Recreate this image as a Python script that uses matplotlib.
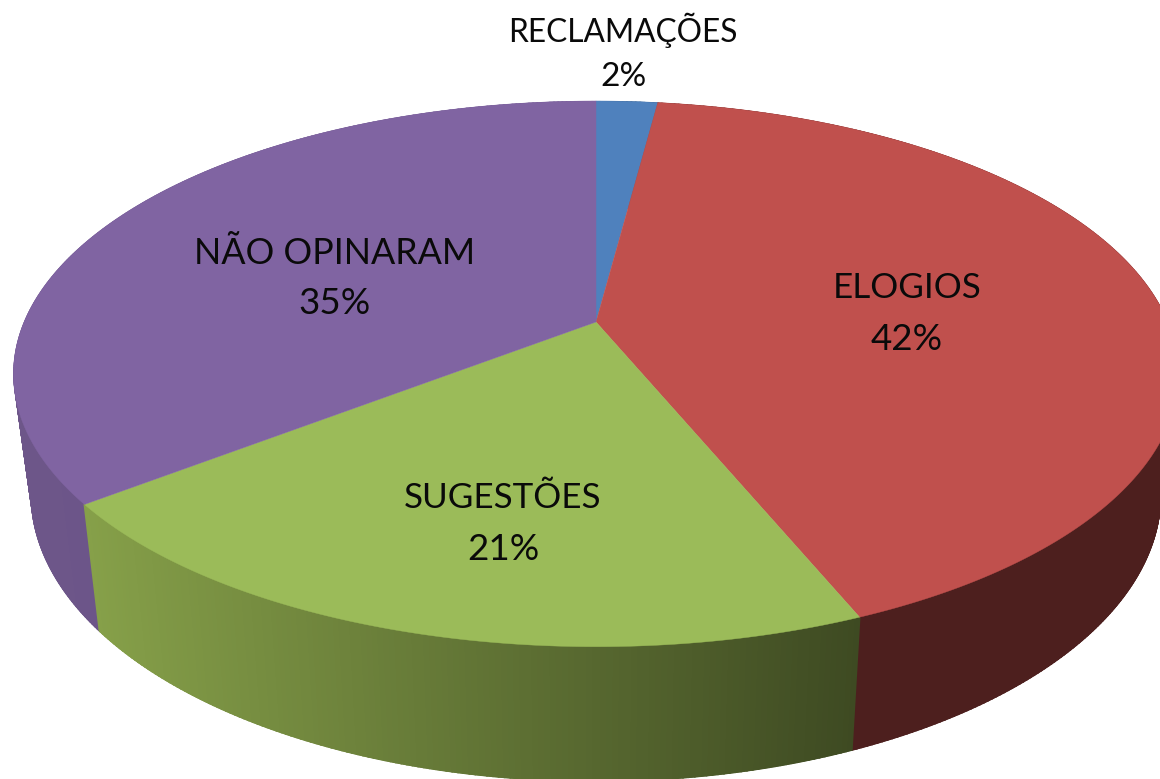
import numpy as np
import matplotlib
matplotlib.use("Agg")
import matplotlib.pyplot as plt
from matplotlib.collections import PolyCollection
from matplotlib.colors import to_rgb
from matplotlib.patches import Polygon

categories = ["RECLAMAÇÕES", "ELOGIOS", "SUGESTÕES", "NÃO OPINARAM"]
values = [2.05, 41.75, 20.7, 35.5]
percent_labels = ["2%", "42%", "21%", "35%"]
top_colors = ["#4f81bd", "#c0504d", "#9bbb59", "#8064a2"]
side_left = ["#2f4d71", "#4d1f1e", "#86a049", "#6d5689"]
side_right = ["#2f4d71", "#4d1f1e", "#3e4a22", "#675088"]
label_xy = [(623, 30, 77), (907, 288, 339), (503, 498, 549), (335, 253, 303)]
label_size = [22.8, 25.2, 25.2, 25.8]
percent_size = [24.0, 26.5, 26.5, 26.5]

W, H = 1160, 779
CX, K = 596.0, 0.19
UP = dict(a=572.0, b=263.0, y0=322.0)
LOW = dict(a=555.0, b=277.0, y0=440.0)


def project(theta, rim):
    u, v = np.sin(theta), np.cos(theta)
    d = 1 + K * v
    return CX + rim["a"] * u / d, rim["y0"] - rim["b"] * v / d


def convex_hull(points):
    pts = sorted(set(map(tuple, points)))

    def half(seq):
        out = []
        for p in seq:
            while len(out) > 1 and ((out[-1][0] - out[-2][0]) * (p[1] - out[-2][1])
                                    - (out[-1][1] - out[-2][1]) * (p[0] - out[-2][0])) <= 0:
                out.pop()
            out.append(p)
        return out[:-1]

    return half(pts) + half(pts[::-1])


fig = plt.figure(figsize=(W / 100, H / 100), dpi=100, facecolor="white")
ax = fig.add_axes([0, 0, 1, 1])
ax.set_xlim(0, W)
ax.set_ylim(H, 0)
ax.axis("off")

edges = np.concatenate([[0], np.cumsum(values)]) / np.sum(values) * 2 * np.pi

# side wall: narrow strips between the upper and lower rim, back to front
polys, cols, depth = [], [], []
for i in range(len(values)):
    n = max(int((edges[i + 1] - edges[i]) / np.radians(0.5)), 2)
    th = np.linspace(edges[i], edges[i + 1], n + 1)
    ux, uy = project(th, UP)
    lx, ly = project(th, LOW)
    xmin, xmax = lx.min(), lx.max()
    cl, cr = np.array(to_rgb(side_left[i])), np.array(to_rgb(side_right[i]))
    for j in range(n):
        polys.append([(ux[j], uy[j]), (ux[j + 1], uy[j + 1]),
                      (lx[j + 1], ly[j + 1]), (lx[j], ly[j])])
        t = (0.5 * (lx[j] + lx[j + 1]) - xmin) / max(xmax - xmin, 1)
        cols.append(cl + (cr - cl) * t)
        depth.append(-np.cos(0.5 * (th[j] + th[j + 1])))
order = np.argsort(depth)
strips = PolyCollection([polys[k] for k in order],
                        facecolors=[cols[k] for k in order],
                        edgecolors=[cols[k] for k in order],
                        linewidths=1.3, zorder=2)
ax.add_collection(strips)

# silhouette of the wall, so the strip outlines do not bleed past the rim
ring = np.linspace(0, 2 * np.pi, 1440, endpoint=False)
hull = convex_hull(np.vstack([np.column_stack(project(ring, UP)),
                              np.column_stack(project(ring, LOW))]))
strips.set_clip_path(Polygon(hull, closed=True, transform=ax.transData))

# top face
for i, c in enumerate(top_colors):
    th = np.linspace(edges[i], edges[i + 1], 300)
    x, y = project(th, UP)
    ax.fill(np.r_[CX, x], np.r_[UP["y0"], y], color=c, lw=0.3, zorder=3)

for name, pct, (x, y1, y2), fs, ps in zip(categories, percent_labels, label_xy,
                                          label_size, percent_size):
    ax.text(x, y1, name, ha="center", va="center", fontsize=fs,
            family="Lato", color="#0a0a0a", zorder=4)
    ax.text(x, y2, pct, ha="center", va="center", fontsize=ps,
            family="Lato", color="#0a0a0a", zorder=4)

fig.savefig("out.png", dpi=100, facecolor="white")
